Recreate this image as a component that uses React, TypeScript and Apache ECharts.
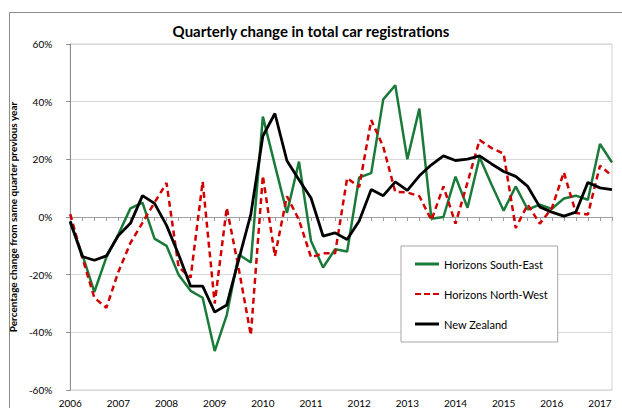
import React, { useEffect, useRef } from "react";
import * as echarts from "echarts";

const years = ["2006","2007","2008","2009","2010","2011","2012","2013","2014","2015","2016","2017"];
const quarters = ["Q1","Q2","Q3","Q4"];
const categories: string[] = [];
years.forEach((y) => quarters.forEach((q) => categories.push(y + " " + q)));
categories.splice(46);

const southEast = [-2,-13,-26,-14,-6,3,5,-7.5,-10,-20,-25.6,-28,-46.5,-34,-13,-15.8,34.8,18,1.4,19.2,-8.3,-17.5,-11.2,-12,13.7,15.2,40.8,45.7,20,37.6,-0.6,0,14,3.2,20.7,11.2,2.2,10.6,2.6,4.3,2.8,6.4,7.4,6,25.3,18.9];
const northWest = [1,-14,-28,-31.5,-19,-9,-2,5,11.8,-17.4,-21,12.3,-30,3.2,-18,-41,14.3,-13.6,7.2,-1,-14,-12.6,-12.6,13.5,10.4,33.6,24.4,8.7,8.5,7.2,-1.1,10.6,-2.3,12,26.7,23.9,22,-3.8,4.3,-2.3,3,15.5,1.4,0.9,17.8,14.3];
const newZealand = [-1.5,-13.7,-15,-13.5,-6.4,-2.2,7.4,4.7,-2.9,-13,-24,-24,-33,-30.5,-14.7,0.9,28.1,35.9,19.5,12.9,6.6,-6.6,-5.5,-7.8,-1.4,9.5,7.4,12.2,9.2,14.3,18.1,21.2,19.6,20.1,21.2,18.4,15.8,14.1,10.6,3.5,1.7,0.3,1.7,12,10.1,9.5];

const FONT = "Lato";
const DASH_ICON = "path://M0,0h6v2h-6z M9,0h6v2h-6z M18,0h6v2h-6z";

export default function App() {
  const ref = useRef<HTMLDivElement>(null);
  useEffect(() => {
    if (!ref.current) return;
    const chart = echarts.init(ref.current, undefined, { renderer: "svg" });
    chart.setOption({
      animation: false,
      backgroundColor: "#ffffff",
      textStyle: { fontFamily: FONT },
      title: {
        text: "Quarterly change in total car registrations",
        left: "center",
        top: 18,
        textStyle: { fontFamily: FONT, fontSize: 15, fontWeight: "bold", color: "#000" },
      },
      graphic: [
        {
          type: "rect",
          shape: { x: 9.5, y: 12.5, width: 700, height: 500 },
          style: { fill: "none", stroke: "#8c8c8c", lineWidth: 1 },
          silent: true,
        },
      ],
      grid: {
        left: 59,
        right: 10,
        top: 44,
        bottom: 18,
        show: true,
        borderColor: "#d0d0d0",
        borderWidth: 1,
      },
      legend: {
        orient: "vertical",
        left: 401,
        top: 246,
        backgroundColor: "#ffffff",
        borderColor: "#a6a6a6",
        borderWidth: 1,
        padding: [11, 10, 11, 14],
        itemGap: 16,
        itemWidth: 24,
        itemHeight: 3,
        textStyle: { fontFamily: FONT, fontSize: 11, color: "#000", lineHeight: 14 },
        data: [
          { name: "Horizons South-East", icon: "rect" },
          { name: "Horizons North-West", icon: DASH_ICON },
          { name: "New Zealand", icon: "rect" },
        ],
      },
      xAxis: [
        {
          type: "category",
          data: categories,
          boundaryGap: false,
          axisLine: { onZero: true, lineStyle: { color: "#a0a0a0", width: 1 } },
          axisTick: { show: true, interval: 0, length: 4, lineStyle: { color: "#a0a0a0" } },
          axisLabel: { show: false },
          splitLine: { show: false },
        },
        {
          type: "category",
          data: categories,
          boundaryGap: false,
          position: "bottom",
          axisLine: { show: false, onZero: false },
          axisTick: { show: false },
          axisLabel: {
            interval: 3,
            margin: 8,
            fontSize: 10,
            color: "#000",
            fontFamily: FONT,
            formatter: (v: string) => v.slice(0, 4),
          },
          splitLine: { show: false },
        },
      ],
      yAxis: {
        type: "value",
        min: -60,
        max: 60,
        interval: 20,
        name: "Percentage change from same quarter previous year",
        nameLocation: "middle",
        nameRotate: 90,
        nameGap: 38,
        nameTextStyle: { fontFamily: FONT, fontSize: 10, fontWeight: "bold", color: "#000" },
        axisLine: { show: true, lineStyle: { color: "#8c8c8c" } },
        axisTick: { show: true, length: 4, lineStyle: { color: "#8c8c8c" } },
        axisLabel: { formatter: "{value}%", fontSize: 10, color: "#000", margin: 18, fontFamily: FONT },
        splitLine: { show: true, lineStyle: { color: "#d9d9d9", width: 1 } },
      },
      series: [
        {
          name: "Horizons South-East",
          type: "line",
          data: southEast,
          symbol: "none",
          lineStyle: { color: "#1a7a3a", width: 2.5 },
          itemStyle: { color: "#1a7a3a" },
        },
        {
          name: "Horizons North-West",
          type: "line",
          data: northWest,
          symbol: "none",
          lineStyle: { color: "#d00000", width: 2.5, type: [6, 4] },
          itemStyle: { color: "#d00000" },
        },
        {
          name: "New Zealand",
          type: "line",
          data: newZealand,
          symbol: "none",
          lineStyle: { color: "#000000", width: 2.8 },
          itemStyle: { color: "#000000" },
        },
      ],
    });
    return () => chart.dispose();
  }, []);
  return (
    <div
      ref={ref}
      style={{ position: "fixed", left: 0, top: 0, width: 622, height: 408 }}
    />
  );
}
